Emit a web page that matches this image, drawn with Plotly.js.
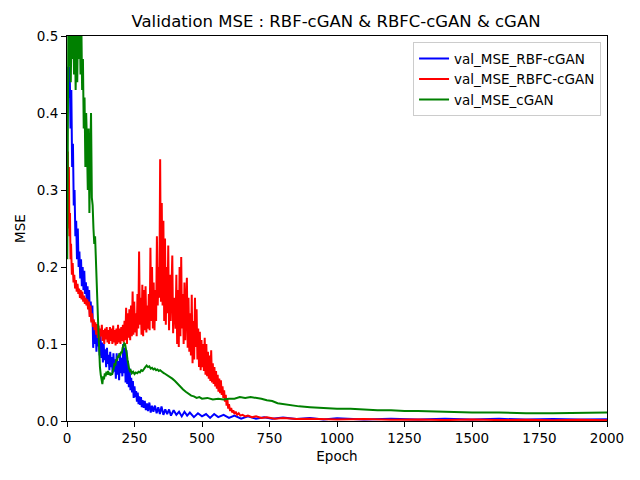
<!DOCTYPE html>
<html>
<head>
<meta charset="utf-8">
<script src="https://cdn.plot.ly/plotly-3.0.1.min.js"></script>
<style>
  body { margin: 0; background: #fff; }
  #myPlot { width: 640px; height: 480px; }
</style>
</head>
<body>
<div id="myPlot"></div>
<script>
// values (epoch, validation MSE)
var rbfEpoch = [1,4,7,10,13,16,19,22,25,28,31,34,37,40,43,46,49,52,55,58,61,64,67,70,73,76,79,82,85,88,91,94,97,100,
  103,106,109,112,115,118,121,124,127,130,133,136,139,142,145,148,151,154,157,160,163,166,169,172,175,178,181,184,187,190,
  193,196,199,202,205,208,211,214,217,220,223,226,229,232,235,238,241,244,247,250,253,256,259,262,265,268,271,274,277,280,
  284,288,292,296,300,305,310,315,320,326,332,338,344,350,357,364,371,378,385,395,405,415,425,435,445,455,470,485,500,515,
  530,545,560,580,600,620,645,670,700,730,760,800,850,900,950,1000,1100,1200,1300,1400,1500,1600,1700,1800,1900,2000];
var rbfMse = [0.40,0.46,0.42,0.46,0.38,0.43,0.33,0.36,0.28,0.30,0.24,0.26,0.21,0.25,0.20,0.22,0.185,0.21,0.175,0.20,
  0.17,0.195,0.165,0.18,0.155,0.175,0.15,0.17,0.135,0.155,0.13,0.15,0.095,0.13,
  0.10,0.125,0.09,0.118,0.097,0.11,0.085,0.113,0.082,0.102,0.076,0.1,0.079,0.093,0.07,0.095,0.074,0.086,0.066,0.09,
  0.07,0.083,0.062,0.088,0.064,0.08,0.055,0.088,0.06,0.078,
  0.053,0.087,0.062,0.082,0.058,0.10,0.062,0.095,0.05,0.092,0.048,0.078,0.044,0.068,0.04,0.056,0.037,0.052,0.03,0.045,
  0.031,0.039,0.025,0.037,0.022,0.032,0.021,0.031,0.018,0.027,
  0.017,0.026,0.014,0.023,0.013,0.024,0.011,0.02,0.012,0.02,0.01,0.018,0.009,0.019,0.008,0.015,0.009,0.015,0.007,0.014,
  0.008,0.012,0.006,0.012,0.007,0.011,0.005,0.01,0.006,0.009,
  0.004,0.009,0.005,0.008,0.004,0.007,0.003,0.006,0.003,0.005,0.003,0.0045,0.0025,0.004,0.002,0.0035,0.002,0.003,0.002,
  0.003,0.0018,0.0028,0.0018,0.0026,0.0018,0.0024];

var rbfcEpoch = [1,3,5,7,9,11,13,15,18,21,24,27,30,33,36,39,42,45,48,51,54,57,60,63,66,69,72,75,78,81,84,87,90,93,96,99,
  102,105,108,111,114,117,120,123,126,129,132,135,138,141,144,147,150,153,156,159,162,165,168,171,174,177,180,183,186,189,
  192,195,198,201,204,207,210,213,216,219,222,225,228,231,234,237,240,243,246,249,252,255,258,261,264,267,270,273,276,279,
  282,285,288,291,294,297,300,303,306,309,312,315,318,321,324,327,330,333,336,339,342,345,348,351,354,357,360,363,366,369,
  372,375,378,381,384,387,390,393,396,399,402,405,408,411,414,417,420,423,426,429,432,435,438,441,444,447,450,453,456,459,
  462,465,468,471,474,477,480,483,486,489,492,495,498,501,504,507,510,513,516,519,522,525,528,531,534,537,540,543,546,549,
  552,555,558,561,564,567,570,573,576,579,582,585,588,591,594,597,600,604,608,612,616,620,625,630,636,642,650,660,670,685,
  700,720,740,770,800,850,900,1000,1100,1200,1300,1400,1500,1600,1700,1800,1900,2000];
var rbfcMse = [0.25,0.35,0.28,0.33,0.24,0.27,0.21,0.23,0.19,0.205,0.18,0.19,0.172,0.183,0.168,0.178,0.165,0.172,0.16,0.17,
  0.158,0.168,0.155,0.163,0.152,0.16,0.15,0.158,0.145,0.155,0.135,0.15,0.128,0.14,0.122,0.132,
  0.118,0.128,0.112,0.126,0.108,0.124,0.105,0.12,0.11,0.125,0.104,0.118,0.1,0.12,0.106,0.122,0.102,0.118,0.1,0.122,
  0.104,0.12,0.1,0.124,0.102,0.118,0.098,0.12,0.1,0.125,
  0.102,0.12,0.1,0.122,0.104,0.125,0.102,0.13,0.105,0.147,0.1,0.14,0.108,0.145,0.105,0.15,0.11,0.168,0.112,0.155,
  0.115,0.14,0.11,0.165,0.12,0.22,0.125,0.16,0.112,0.177,
  0.11,0.17,0.118,0.175,0.115,0.15,0.12,0.165,0.118,0.225,0.13,0.2,0.12,0.18,0.118,0.17,0.13,0.24,0.15,0.2,
  0.16,0.34,0.155,0.283,0.15,0.26,0.13,0.237,0.125,0.2,
  0.14,0.228,0.118,0.19,0.13,0.17,0.215,0.114,0.16,0.148,0.12,0.19,0.1,0.17,0.096,0.2,0.11,0.213,0.12,0.165,
  0.1,0.18,0.105,0.15,0.186,0.095,0.16,0.09,0.14,0.085,
  0.164,0.075,0.13,0.08,0.16,0.096,0.145,0.08,0.12,0.07,0.116,0.066,0.105,0.07,0.1,0.065,0.108,0.06,0.1,0.058,
  0.09,0.055,0.085,0.052,0.092,0.05,0.075,0.048,0.07,0.045,
  0.065,0.042,0.06,0.038,0.055,0.036,0.053,0.034,0.045,0.03,0.04,0.025,0.034,0.02,0.028,0.016,0.022,0.013,0.017,0.011,
  0.014,0.009,0.012,0.008,0.01,0.007,0.008,0.006,0.007,0.005,
  0.006,0.004,0.005,0.003,0.004,0.0025,0.003,0.002,0.0025,0.0015,0.002,0.0012,0.0018,0.0012,0.0016,0.001,0.0015,0.001];

var cganEpoch = [1,3,5,8,11,14,17,20,23,26,29,32,35,38,41,44,47,50,53,56,59,62,65,68,71,74,77,80,83,86,89,92,95,98,
  101,104,107,110,113,116,119,122,125,128,131,134,137,140,143,146,149,152,155,158,161,164,167,170,173,176,179,182,185,188,
  191,194,197,200,203,206,209,212,215,218,221,224,227,230,233,236,240,245,250,255,260,265,270,275,280,285,290,295,300,
  305,310,315,320,325,330,335,340,345,350,355,360,370,380,390,400,410,420,430,440,450,460,470,480,490,500,520,540,560,
  580,600,620,640,660,680,700,720,740,760,780,800,830,860,900,950,1000,1050,1100,1150,1200,1250,1300,1400,1500,1600,
  1700,1800,1900,2000];
var cganMse = [0.21,0.40,0.52,0.46,0.53,0.44,0.52,0.47,0.53,0.45,0.52,0.43,0.50,0.44,0.53,0.47,0.53,0.45,0.52,0.43,
  0.47,0.38,0.42,0.33,0.40,0.36,0.30,0.38,0.27,0.34,0.40,0.29,0.28,0.25,
  0.23,0.24,0.20,0.17,0.15,0.12,0.09,0.07,0.06,0.05,0.048,0.058,0.054,0.062,0.058,0.064,0.06,0.065,0.06,0.063,
  0.059,0.062,0.06,0.066,0.068,0.075,0.072,0.08,0.078,0.085,
  0.082,0.088,0.085,0.09,0.088,0.095,0.098,0.101,0.1,0.095,0.088,0.08,0.072,0.068,0.065,0.066,0.062,0.064,0.061,
  0.063,0.062,0.064,0.063,0.066,0.065,0.068,0.07,0.072,0.07,
  0.071,0.068,0.069,0.067,0.068,0.066,0.067,0.065,0.066,0.064,0.063,0.062,0.06,0.058,0.055,0.052,0.048,0.044,0.041,
  0.038,0.035,0.033,0.032,0.03,0.031,0.029,0.03,0.028,0.029,
  0.028,0.029,0.029,0.031,0.03,0.031,0.03,0.029,0.027,0.026,0.023,0.022,0.02,0.019,0.018,0.017,0.016,0.016,0.015,
  0.014,0.014,0.013,0.013,0.012,0.011,0.011,
  0.01,0.01,0.0105,0.011];

var seriesNames = ['val_MSE_RBF-cGAN', 'val_MSE_RBFC-cGAN', 'val_MSE_cGAN'];
var seriesColors = ['#0000ff', '#ff0000', '#008000'];
var xTicks = [0, 250, 500, 750, 1000, 1250, 1500, 1750, 2000];
var yTicks = [0, 0.1, 0.2, 0.3, 0.4, 0.5];

var xs = [rbfEpoch, rbfcEpoch, cganEpoch];
var ys = [rbfMse, rbfcMse, cganMse];
var traces = [];
for (var i = 0; i < 3; i++) {
  traces.push({
    x: xs[i],
    y: ys[i],
    name: seriesNames[i],
    type: 'scatter',
    mode: 'lines',
    line: { color: seriesColors[i], width: 2 }
  });
}

var axisStyle = {
  showgrid: false,
  zeroline: false,
  showline: true,
  linecolor: '#000',
  linewidth: 1,
  mirror: true,
  ticks: 'outside',
  ticklen: 5,
  tickwidth: 1,
  tickcolor: '#000',
  tickfont: { family: 'DejaVu Sans', size: 13.5, color: '#000' }
};

var layout = {
  width: 640,
  height: 480,
  paper_bgcolor: '#fff',
  plot_bgcolor: '#fff',
  margin: { l: 67, r: 33, t: 36, b: 59 },
  font: { family: 'DejaVu Sans', color: '#000' },
  showlegend: true,
  title: {
    text: 'Validation MSE : RBF-cGAN & RBFC-cGAN & cGAN',
    font: { family: 'DejaVu Sans', size: 16.5, color: '#000' },
    x: 0.525,
    xanchor: 'center',
    y: 0.956,
    yanchor: 'middle'
  },
  xaxis: Object.assign({}, axisStyle, {
    range: [0, 2000],
    tickvals: xTicks,
    title: { text: 'Epoch', font: { family: 'DejaVu Sans', size: 13.5, color: '#000' }, standoff: 6 }
  }),
  yaxis: Object.assign({}, axisStyle, {
    range: [0, 0.5],
    tickvals: yTicks,
    tickformat: '.1f',
    title: { text: 'MSE', font: { family: 'DejaVu Sans', size: 13.5, color: '#000' }, standoff: 8 }
  }),
  legend: {
    x: 0.989,
    xanchor: 'right',
    y: 0.984,
    yanchor: 'top',
    bgcolor: 'rgba(255,255,255,0.8)',
    bordercolor: '#cccccc',
    borderwidth: 1,
    font: { family: 'DejaVu Sans', size: 13.5, color: '#000' },
    tracegroupgap: 0
  }
};

Plotly.newPlot('myPlot', traces, layout, { displayModeBar: false, staticPlot: true });
</script>
</body>
</html>
